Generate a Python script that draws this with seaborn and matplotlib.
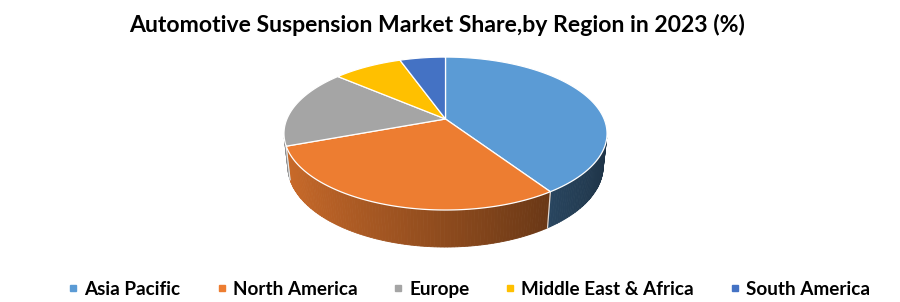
import numpy as np
import matplotlib
matplotlib.use("Agg")
import matplotlib.pyplot as plt
import seaborn as sns
from matplotlib import font_manager
from matplotlib.lines import Line2D
from matplotlib.colors import to_rgb

# ---- data ----
regions = ["Asia Pacific", "North America", "Europe", "Middle East & Africa", "South America"]
shares = [40.6, 28.8, 16.8, 8.3, 5.5]
colors = ["#5B9BD5", "#ED7D31", "#A5A5A5", "#FFC000", "#4472C4"]
title = "Automotive Suspension Market Share,by Region in 2023 (%)"

sns.set_theme(style="white")
names = {f.name for f in font_manager.fontManager.ttflist}
FONT = "Lato" if "Lato" in names else "DejaVu Sans"
plt.rcParams["font.family"] = [FONT, "DejaVu Sans"]

fig = plt.figure(figsize=(9, 3.02), dpi=100)
fig.patch.set_facecolor("white")
ax = fig.add_axes([0, 0, 1, 1])
ax.set_xlim(0, 900)
ax.set_ylim(302, 0)
ax.axis("off")
renderer = fig.canvas.get_renderer()

# perspective projection of a short cylinder (3-D pie)
CX, CY = 445.5, 119.0
F, L, ALPHA, T = 739.0, 4.66, np.radians(27.7), 0.235
sa, ca = np.sin(ALPHA), np.cos(ALPHA)


def project(theta, depth=0.0):
    X = np.sin(theta)
    Z = np.cos(theta)
    Y = -depth
    w = L + Z * ca - Y * sa
    up = Z * sa + Y * ca
    return CX + F * X / w, CY - F * up / w


vals = np.array(shares, dtype=float)
bounds = np.concatenate([[0.0], np.cumsum(vals) / vals.sum() * 2 * np.pi])

D = L * ca
vis_lo = np.arccos(-1.0 / D)
vis_hi = 2 * np.pi - vis_lo


def shade(base, theta):
    f = 0.596 + 0.27 * (-np.sin(theta))
    f = np.clip(f, 0.25, 0.95)
    return tuple(np.array(to_rgb(base)) * f)


for i, c in enumerate(colors):
    a0, a1 = max(bounds[i], vis_lo), min(bounds[i + 1], vis_hi)
    if a1 <= a0:
        continue
    n = max(2, int(np.degrees(a1 - a0)))
    edges = np.linspace(a0, a1, n + 1)
    for e0, e1 in zip(edges[:-1], edges[1:]):
        th = np.linspace(e0, e1, 4)
        xt, yt = project(th, 0)
        xb, yb = project(th[::-1], T)
        col = shade(c, 0.5 * (e0 + e1))
        ax.fill(np.concatenate([xt, xb]), np.concatenate([yt, yb]),
                color=col, lw=0.6, ec=col, zorder=1)

for b in bounds[1:-1]:
    if vis_lo < b < vis_hi:
        x0, y0 = project(b, 0)
        x1, y1 = project(b, T)
        ax.plot([x0, x1], [y0, y1], color="white", lw=0.9, alpha=0.8, zorder=2)

for i, c in enumerate(colors):
    th = np.linspace(bounds[i], bounds[i + 1], 200)
    x, y = project(th, 0)
    ax.fill(np.concatenate([[CX], x]), np.concatenate([[CY], y]),
            color=c, ec="white", lw=0.9, zorder=3)


def fit_size(txt, target_px, weight="bold", start=14.0):
    t = fig.text(0, 0, txt, fontsize=start, fontweight=weight)
    w = t.get_window_extent(renderer).width
    t.remove()
    return start * target_px / w


title_size = fit_size(title, 621)
fig.text(0.486, 0.917, title, ha="center", va="center",
         fontsize=title_size, fontweight="bold", color="black")

leg_size = fit_size("North America", 125)
em = leg_size * 100 / 72.0
handles = [Line2D([], [], marker="s", ls="none", markersize=5,
                  markerfacecolor=c, markeredgecolor=c) for c in colors]
fig.legend(handles, regions, loc="center", bbox_to_anchor=(0.522, 0.043),
           ncol=5, frameon=False, handlelength=8.0 / em, handletextpad=7.0 / em,
           columnspacing=37.0 / em, borderpad=0.0, labelcolor="black",
           prop={"family": [FONT, "DejaVu Sans"], "weight": "bold", "size": leg_size})

fig.savefig("out.png", dpi=100, facecolor="white")
